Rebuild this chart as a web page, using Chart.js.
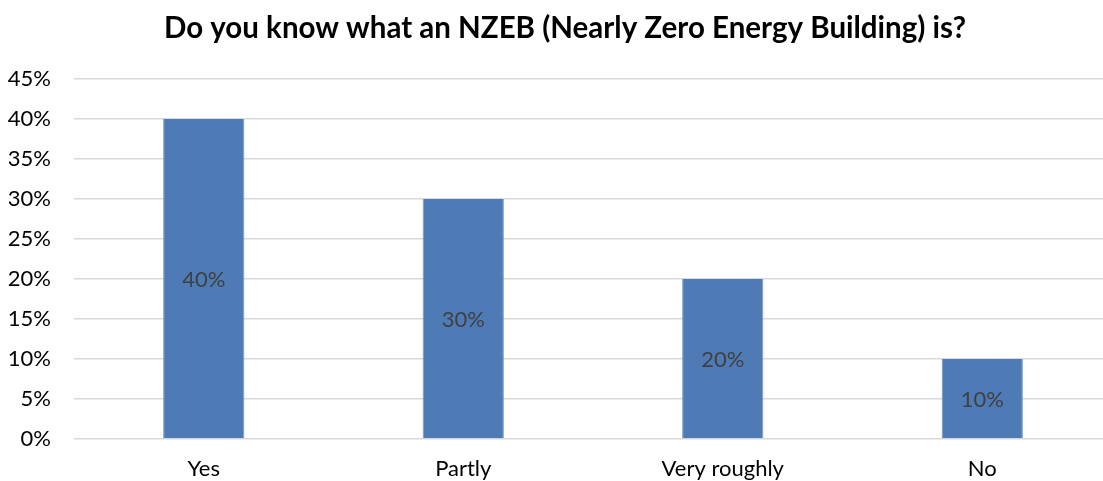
<!DOCTYPE html>
<html>
<head>
<meta charset="utf-8">
<script src="https://cdn.jsdelivr.net/npm/chart.js@4/dist/chart.umd.min.js"></script>
<style>
  html, body { margin: 0; padding: 0; background: #fff; overflow: hidden; }
  #wrap { width: 1112px; height: 481px; }
</style>
</head>
<body>
<div id="wrap"><canvas id="grafico" width="1112" height="481"></canvas></div>
<script>
// answers to the survey question, share in percent
var respostas = ["Yes", "Partly", "Very roughly", "No"];
var valores = [40, 30, 20, 10];
var titulo = "Do you know what an NZEB (Nearly Zero Energy Building) is?";

var fonte = "Lato, 'Open Sans', sans-serif";

// title is drawn by hand so it can sit a bit right of the canvas middle
var cabecalho = {
    id: "cabecalho",
    afterDraw: function(chart){
        var ctx = chart.ctx;
        ctx.save();
        ctx.font = "bold 29.5px " + fonte;
        ctx.fillStyle = "#000";
        ctx.textAlign = "center";
        ctx.textBaseline = "middle";
        ctx.fillText(titulo, 565, 28);
        ctx.restore();
    }
};

// writes the % value in the middle of each bar
var rotulos = {
    id: "rotulos",
    afterDatasetsDraw: function(chart){
        var ctx = chart.ctx;
        var meta = chart.getDatasetMeta(0);
        ctx.save();
        ctx.font = "22px " + fonte;
        ctx.fillStyle = "#404040";
        ctx.textAlign = "center";
        ctx.textBaseline = "middle";
        meta.data.forEach(function(bar, i){
            var meio = (bar.y + bar.base) / 2;
            ctx.fillText(valores[i] + "%", bar.x, meio + 1.5);
        });
        ctx.restore();
    }
};

var dados = {
    labels: respostas,
    datasets: [{
        data: valores,
        backgroundColor: "#4E7AB5",
        borderColor: "#6F96C8",
        borderWidth: { left: 1, right: 1, top: 0, bottom: 0 },
        borderSkipped: false,
        categoryPercentage: 1,
        barPercentage: 0.313
    }]
};

var config = {
    type: "bar",
    data: dados,
    options: {
        responsive: false,
        animation: false,
        layout: { padding: { left: 0, right: 0, top: 79, bottom: 0 } },
        plugins: {
            legend: { display: false },
            tooltip: { enabled: false },
            title: { display: false }
        },
        scales: {
            x: {
                grid: { display: false, drawTicks: false },
                border: { display: false },
                ticks: { color: "#000", font: { family: fonte, size: 22 }, padding: 17 },
                afterFit: function(s){ s.height = 42; }
            },
            y: {
                min: 0,
                max: 45,
                border: { display: false },
                grid: { color: "#d9d9d9", lineWidth: 1.5, drawTicks: false },
                ticks: {
                    stepSize: 5,
                    color: "#000",
                    padding: 23,
                    font: { family: fonte, size: 22 },
                    callback: function(v){ return v + "%"; }
                },
                afterFit: function(s){ s.width = 74; }
            }
        }
    },
    plugins: [rotulos, cabecalho]
};

var g1 = new Chart(document.getElementById("grafico").getContext("2d"), config);
</script>
</body>
</html>
